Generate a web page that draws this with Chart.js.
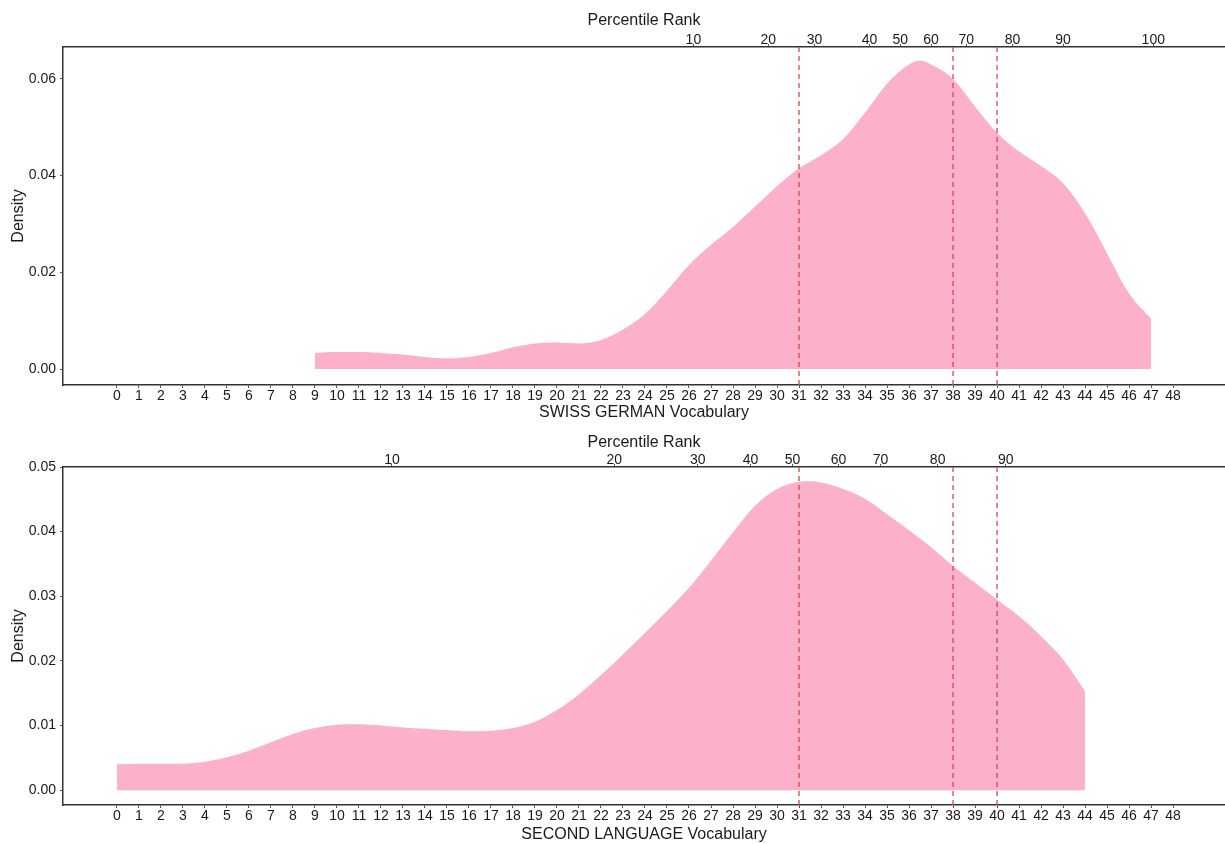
<!DOCTYPE html>
<html>
<head>
<meta charset="utf-8">
<script src="https://cdn.jsdelivr.net/npm/chart.js@4.4.1/dist/chart.umd.min.js"></script>
<style>
  html, body { margin: 0; padding: 0; background: #fff; }
  .panel { position: absolute; left: 0; width: 1225px; height: 422px; }
  #p1 { top: 0; }
  #p2 { top: 422px; }
</style>
</head>
<body>
<div class="panel" id="p1"><canvas id="swissChart" width="1225" height="422"></canvas></div>
<div class="panel" id="p2"><canvas id="secondChart" width="1225" height="422"></canvas></div>
<script>
// score ticks on the bottom axis
const scoreTicks = Array.from({ length: 49 }, (_, i) => i);

// SWISS GERMAN density curve
const swissX = [9, 10, 11, 12, 13, 14, 15, 16, 17, 18, 19, 20, 21, 22, 23, 24, 25, 26, 27, 28, 29, 30,
                31, 32, 33, 34, 35, 36, 36.5, 37, 38, 39, 40, 41, 42, 43, 44, 45, 46, 47];
const swissY = [0.0033, 0.0035, 0.0035, 0.0033, 0.0030, 0.0025, 0.0022, 0.0025, 0.0033, 0.0045, 0.0053,
                0.0055, 0.0053, 0.0060, 0.0082, 0.0114, 0.0162, 0.0215, 0.0257, 0.0294, 0.0336, 0.0378,
                0.0415, 0.0442, 0.0475, 0.0530, 0.0590, 0.0630, 0.0638, 0.0630, 0.0600, 0.0543, 0.0488,
                0.0450, 0.0420, 0.0384, 0.0322, 0.0239, 0.0156, 0.0104];
const swissPctLabels = ["10", "20", "30", "40", "50", "60", "70", "80", "90", "100"];
const swissPctPos = [26.2, 29.6, 31.7, 34.2, 35.6, 37.0, 38.6, 40.7, 43.0, 47.1];
const swissYTicks = [0, 0.02, 0.04, 0.06];

// SECOND LANGUAGE density curve
const secondX = [0, 1, 2, 3, 4, 5, 6, 7, 8, 9, 10, 11, 12, 13, 14, 15, 16, 17, 18, 19, 20, 21, 22,
                 23, 24, 25, 26, 27, 28, 29, 30, 31, 31.5, 32, 33, 34, 35, 36, 37, 38, 39, 40, 41, 42, 43, 44];
const secondY = [0.0040, 0.0041, 0.0041, 0.0041, 0.0044, 0.0051, 0.0061, 0.0074, 0.0087, 0.0096, 0.0101,
                 0.0102, 0.0100, 0.0097, 0.0095, 0.0093, 0.0091, 0.0092, 0.0096, 0.0106, 0.0124, 0.0148,
                 0.0178, 0.0210, 0.0243, 0.0277, 0.0313, 0.0355, 0.0399, 0.0440, 0.0466, 0.0477, 0.0478,
                 0.0476, 0.0466, 0.0451, 0.0427, 0.0402, 0.0376, 0.0347, 0.0321, 0.0295, 0.0269, 0.0238,
                 0.0202, 0.0153];
const secondPctLabels = ["10", "20", "30", "40", "50", "60", "70", "80", "90"];
const secondPctPos = [12.5, 22.6, 26.4, 28.8, 30.7, 32.8, 34.7, 37.3, 40.4];
const secondYTicks = [0, 0.01, 0.02, 0.03, 0.04, 0.05];

// cut-off scores marked with dashed lines
const cutScores = [31, 38, 40];

const FILL = "rgb(252,176,201)";
const DASH = "rgb(214,72,72)";
const TXT = "#1a1a1a";
const AXIS = "#333";
const FONT = "'Liberation Sans', Arial, sans-serif";

Chart.defaults.font.family = FONT;
Chart.defaults.color = TXT;

const xMin = -2.45, xMax = 50.36;

const makeChart = (id, cfg) => {
    const xs = cfg.xs, ys = cfg.ys;
    const datasets = [{
        data: xs.map((x, i) => ({ x, y: ys[i] })),
        borderWidth: 0,
        borderColor: FILL,
        backgroundColor: FILL,
        fill: "origin",
        pointRadius: 0,
        cubicInterpolationMode: "monotone",
        order: 2,
    }];
    cutScores.forEach(c => {
        datasets.push({
            data: [{ x: c, y: cfg.yMin }, { x: c, y: cfg.yMax }],
            borderColor: DASH,
            borderWidth: 1.3,
            borderDash: [5, 4],
            pointRadius: 0,
            fill: false,
            order: 1,
        });
    });

    const tickFont = { size: 14 };
    const titleFont = { size: 16 };
    const gridOpts = { drawOnChartArea: false, drawTicks: true, tickLength: 3, color: "#555", lineWidth: 1 };
    const borderOpts = { display: true, color: AXIS, width: 1.5 };

    return new Chart(document.getElementById(id), {
        type: "line",
        data: { datasets },
        options: {
            responsive: false,
            animation: false,
            layout: { padding: { left: 0, right: 0, top: 0, bottom: 0 } },
            plugins: { legend: { display: false }, tooltip: { enabled: false } },
            scales: {
                x: {
                    type: "linear",
                    position: "bottom",
                    min: xMin, max: xMax,
                    afterBuildTicks: a => { a.ticks = scoreTicks.map(v => ({ value: v })); },
                    afterFit: a => { a.height = cfg.bottomH; },
                    ticks: { autoSkip: false, maxRotation: 0, padding: 0, font: tickFont, color: TXT },
                    grid: gridOpts,
                    border: borderOpts,
                    title: { display: true, text: cfg.xTitle, font: titleFont, color: TXT, padding: { top: 0, bottom: 0 } },
                },
                x2: {
                    type: "linear",
                    position: "top",
                    min: xMin, max: xMax,
                    afterBuildTicks: a => { a.ticks = cfg.pctPos.map(v => ({ value: v })); },
                    afterFit: a => { a.height = cfg.topH; },
                    ticks: {
                        autoSkip: false, maxRotation: 0, padding: -5, font: tickFont, color: TXT,
                        callback: (v, i) => cfg.pctLabels[i],
                    },
                    grid: gridOpts,
                    border: borderOpts,
                    title: { display: true, text: "Percentile Rank", font: titleFont, color: TXT, padding: { top: cfg.titleTop, bottom: 0 } },
                },
                y: {
                    type: "linear",
                    min: cfg.yMin, max: cfg.yMax,
                    afterBuildTicks: a => { a.ticks = cfg.yTicks.map(v => ({ value: v })); },
                    afterFit: a => { a.width = 63; },
                    ticks: { padding: 4, font: tickFont, color: TXT, callback: v => v.toFixed(2) },
                    grid: gridOpts,
                    border: borderOpts,
                    title: { display: true, text: "Density", font: titleFont, color: TXT, padding: { top: 9, bottom: 0 } },
                },
            },
        },
    });
};

makeChart("swissChart", {
    xs: swissX, ys: swissY,
    pctPos: swissPctPos, pctLabels: swissPctLabels,
    yTicks: swissYTicks, yMin: -0.0033, yMax: 0.0666,
    xTitle: "SWISS GERMAN Vocabulary",
    topH: 47, bottomH: 37, titleTop: 11,
});

makeChart("secondChart", {
    xs: secondX, ys: secondY,
    pctPos: secondPctPos, pctLabels: secondPctLabels,
    yTicks: secondYTicks, yMin: -0.0023, yMax: 0.05,
    xTitle: "SECOND LANGUAGE Vocabulary",
    topH: 45, bottomH: 39, titleTop: 11,
});
</script>
</body>
</html>
